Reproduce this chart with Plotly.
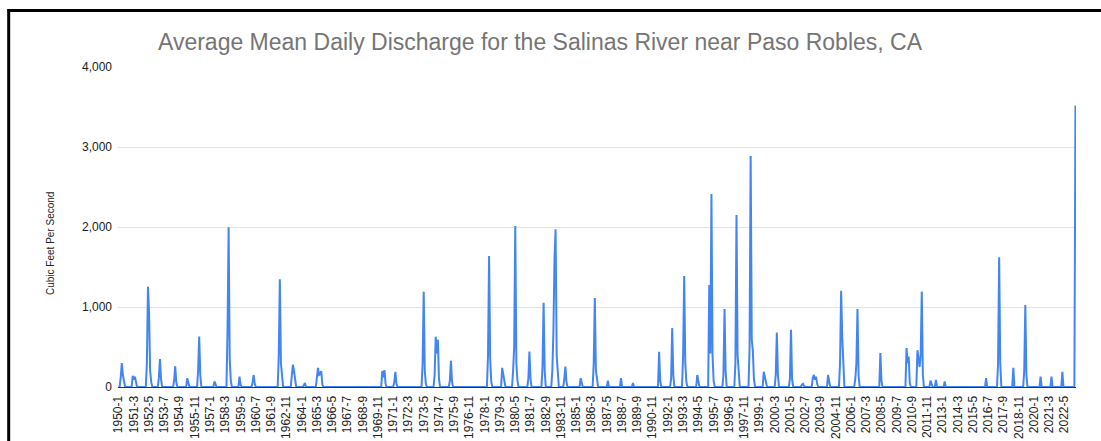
import plotly.graph_objects as go

# Monthly categories, January 1950 through March 2023
FIRST_YEAR, LAST_YEAR, LAST_MONTH = 1950, 2023, 3
months = [f"{y}-{m}" for y in range(FIRST_YEAR, LAST_YEAR + 1) for m in range(1, 13)
          if not (y == LAST_YEAR and m > LAST_MONTH)]

# Axis labels every 14 months
tick_labels = months[::14]
y_ticks = [0, 1000, 2000, 3000, 4000]

# Months with measurable flow (average mean daily discharge, cfs).
# All months not listed were dry (0 cfs).
flow_1950s = [
    ("1950-3", 120), ("1950-4", 300), ("1950-5", 150), ("1950-6", 40),
    ("1951-2", 140), ("1951-3", 90), ("1951-4", 130), ("1951-5", 40),
    ("1952-3", 300), ("1952-4", 1254), ("1952-5", 925), ("1952-6", 200), ("1952-7", 60),
    ("1953-2", 120), ("1953-3", 350), ("1953-4", 100),
    ("1954-4", 80), ("1954-5", 260), ("1954-6", 60),
    ("1955-4", 110), ("1955-5", 30),
    ("1956-2", 200), ("1956-3", 630), ("1956-4", 150),
    ("1957-5", 70), ("1957-6", 40),
    ("1958-5", 700), ("1958-6", 1996), ("1958-7", 350), ("1958-8", 80),
    ("1959-4", 130), ("1959-5", 30),
]
flow_1960s = [
    ("1960-4", 60), ("1960-5", 150), ("1960-6", 40),
    ("1962-4", 400), ("1962-5", 1346), ("1962-6", 300), ("1962-7", 80),
    ("1963-4", 150), ("1963-5", 280), ("1963-6", 200), ("1963-7", 60),
    ("1964-3", 20), ("1964-4", 50),
    ("1965-3", 120), ("1965-4", 240), ("1965-5", 150), ("1965-6", 160),
    ("1965-7", 200), ("1965-8", 30),
]
flow_1970s = [
    ("1970-3", 200), ("1970-4", 120), ("1970-5", 210), ("1970-6", 40),
    ("1971-2", 60), ("1971-3", 190), ("1971-4", 40),
    ("1973-4", 300), ("1973-5", 1192), ("1973-6", 200), ("1973-7", 40),
    ("1974-3", 150), ("1974-4", 629), ("1974-5", 420), ("1974-6", 590), ("1974-7", 100),
    ("1975-5", 80), ("1975-6", 329), ("1975-7", 60),
    ("1978-4", 400), ("1978-5", 1637), ("1978-6", 350), ("1978-7", 60),
    ("1979-5", 240), ("1979-6", 150), ("1979-7", 40),
]
flow_1980s = [
    ("1980-3", 200), ("1980-4", 500), ("1980-5", 2012), ("1980-6", 300), ("1980-7", 80),
    ("1981-5", 100), ("1981-6", 442), ("1981-7", 100),
    ("1982-6", 250), ("1982-7", 1054), ("1982-8", 200),
    ("1983-3", 200), ("1983-4", 700), ("1983-5", 1590), ("1983-6", 1971),
    ("1983-7", 400), ("1983-8", 100),
    ("1984-2", 100), ("1984-3", 254), ("1984-4", 60),
    ("1985-5", 110), ("1985-6", 30),
    ("1986-5", 300), ("1986-6", 1112), ("1986-7", 200), ("1986-8", 50),
    ("1987-6", 80),
    ("1988-6", 110),
    ("1989-5", 50),
]
flow_1990s = [
    ("1991-5", 440), ("1991-6", 80),
    ("1992-4", 100), ("1992-5", 737), ("1992-6", 150),
    ("1993-3", 400), ("1993-4", 1388), ("1993-5", 300), ("1993-6", 60),
    ("1994-4", 150), ("1994-5", 40),
    ("1995-3", 1275), ("1995-4", 420), ("1995-5", 2412), ("1995-6", 400), ("1995-7", 80),
    ("1996-4", 150), ("1996-5", 975), ("1996-6", 200),
    ("1997-3", 300), ("1997-4", 2150), ("1997-5", 400), ("1997-6", 100),
    ("1998-4", 500), ("1998-5", 2888), ("1998-6", 590), ("1998-7", 450), ("1998-8", 100),
    ("1999-5", 190), ("1999-6", 125), ("1999-7", 40),
]
flow_2000s = [
    ("2000-4", 150), ("2000-5", 680), ("2000-6", 150),
    ("2001-5", 100), ("2001-6", 715), ("2001-7", 100),
    ("2002-4", 30), ("2002-5", 40), ("2002-6", 10),
    ("2003-2", 120), ("2003-3", 150), ("2003-4", 90), ("2003-5", 130), ("2003-6", 40),
    ("2004-4", 150), ("2004-5", 40),
    ("2005-3", 300), ("2005-4", 1204), ("2005-5", 629), ("2005-6", 150),
    ("2006-5", 100), ("2006-6", 290), ("2006-7", 975), ("2006-8", 150),
    ("2008-4", 425), ("2008-5", 80),
]
flow_2010s = [
    ("2010-4", 487), ("2010-5", 300), ("2010-6", 380), ("2010-7", 50),
    ("2011-2", 460), ("2011-3", 300), ("2011-4", 250), ("2011-5", 400),
    ("2011-6", 1192), ("2011-7", 150),
    ("2012-2", 80), ("2012-3", 30), ("2012-7", 90),
    ("2013-3", 70),
    ("2016-5", 110),
    ("2017-4", 300), ("2017-5", 1621), ("2017-6", 300),
    ("2018-6", 240),
    ("2019-4", 200), ("2019-5", 1025), ("2019-6", 150),
]
flow_2020s = [
    ("2020-7", 130),
    ("2021-5", 130),
    ("2022-3", 190),
    ("2023-3", 3520),
]

recorded = dict(flow_1950s + flow_1960s + flow_1970s + flow_1980s
                + flow_1990s + flow_2000s + flow_2010s + flow_2020s)
discharge = [recorded.get(m, 0) for m in months]

W, H = 1101, 441
ML, MR, MT, MB = 118, 25, 67, 54
PW, PH = W - ML - MR, H - MT - MB


def px_x(px):
    return (px - ML) / PW


def px_y(py):
    return (H - MB - py) / PH


fig = go.Figure(
    go.Scatter(
        x=months,
        y=discharge,
        mode="lines",
        line=dict(color="#4285F4", width=2),
        hoverinfo="x+y",
    )
)

font_family = "Arial, Liberation Sans, sans-serif"

fig.update_layout(
    width=W,
    height=H,
    margin=dict(l=ML, r=MR, t=MT, b=MB, autoexpand=False),
    paper_bgcolor="white",
    plot_bgcolor="white",
    showlegend=False,
    font=dict(family=font_family, color="#222222"),
    title=dict(
        text="Average Mean Daily Discharge for the Salinas River near Paso Robles, CA",
        x=540 / W,
        xanchor="center",
        xref="container",
        y=1 - 42 / H,
        yanchor="middle",
        yref="container",
        font=dict(family=font_family, size=23, color="#757575"),
    ),
    xaxis=dict(
        type="category",
        range=[-0.5, len(months) - 0.5],
        tickmode="array",
        tickvals=tick_labels,
        ticktext=tick_labels,
        tickangle=-90,
        tickfont=dict(size=12, color="#222222"),
        showgrid=False,
        showline=True,
        linecolor="#333333",
        linewidth=1,
        ticks="",
        ticklabelstandoff=3,
        automargin=False,
        fixedrange=True,
    ),
    yaxis=dict(
        range=[0, 4000],
        tickmode="array",
        tickvals=y_ticks,
        tickformat=",",
        tickfont=dict(size=12, color="#222222"),
        gridcolor="#e3e3e3",
        gridwidth=1,
        zeroline=False,
        showline=False,
        ticks="",
        ticklabelstandoff=5,
        automargin=False,
        fixedrange=True,
    ),
    annotations=[
        dict(
            text="Cubic Feet Per Second",
            x=px_x(50),
            y=px_y(244),
            xref="paper",
            yref="paper",
            xanchor="center",
            yanchor="middle",
            textangle=-90,
            showarrow=False,
            font=dict(family=font_family, size=10, color="#222222"),
        )
    ],
    shapes=[
        # frame around the chart: top and left edges
        dict(type="line", xref="paper", yref="paper",
             x0=px_x(7.5), x1=px_x(W + 5), y0=px_y(10.5), y1=px_y(10.5),
             line=dict(color="black", width=3)),
        dict(type="line", xref="paper", yref="paper",
             x0=px_x(8.7), x1=px_x(8.7), y0=px_y(9), y1=px_y(H + 5),
             line=dict(color="black", width=3)),
    ],
)

fig.write_html("out.html")
